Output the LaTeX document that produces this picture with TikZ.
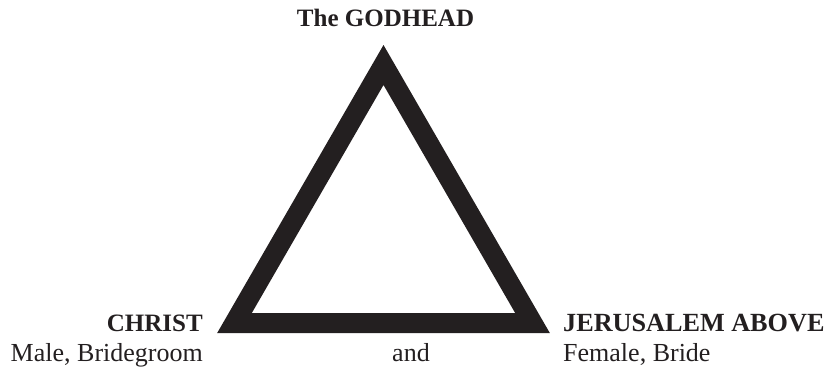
\documentclass[tikz,border=0pt]{standalone}
\usepackage{fontspec}
\setmainfont{Liberation Serif}
\usetikzlibrary{positioning}
\definecolor{inkblack}{HTML}{231f20}

\begin{document}
\begin{tikzpicture}[x=1pt, y=1pt, color=inkblack,
  head/.style={font=\fontsize{25}{30}\selectfont\bfseries, inner sep=0pt},
  role/.style={font=\fontsize{26}{31}\selectfont, inner sep=0pt},
  edge/.style={draw=inkblack, line width=20pt, line join=miter}]
\useasboundingbox (0,0) rectangle (830,370);
% triangle
\coordinate (apex) at (383.5,305);
\coordinate (lft) at (234.5,47);
\coordinate (rgt) at (532.5,47);
\draw[edge] (apex) -- (lft) -- (rgt) -- cycle;
% labels
\node[head, anchor=base] (god) at (385.5,343) {The GODHEAD};
\node[head, anchor=base east] (christ) at (203,39) {CHRIST};
\node[role, anchor=base east] (male) at (203,9) {Male, Bridegroom};
\node[role, anchor=base] (and) at (411,9) {and};
\node[head, font=\fontsize{26.2}{31}\selectfont\bfseries, anchor=base west] (jer) at (563,39) {JERUSALEM ABOVE};
\node[role, anchor=base west] (female) at (563,9) {Female, Bride};
\end{tikzpicture}
\end{document}
